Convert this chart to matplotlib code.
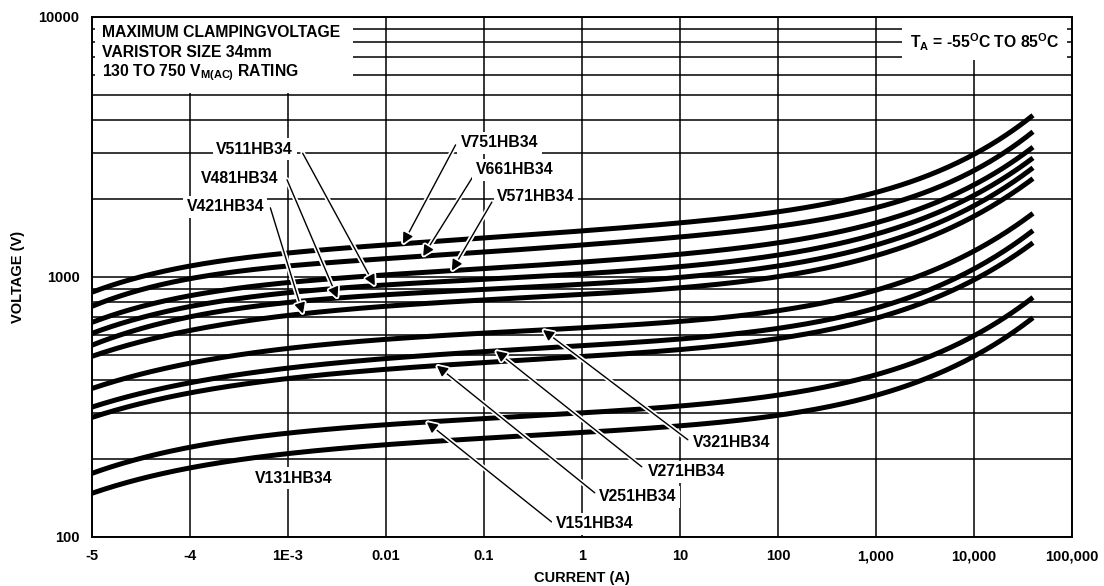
import matplotlib
matplotlib.use("Agg")
import matplotlib.pyplot as plt
import matplotlib.patches as patches
import matplotlib.patheffects as pe
import numpy as np

plt.rcParams['font.family'] = ['Liberation Sans', 'DejaVu Sans']
plt.rcParams['font.weight'] = 'bold'
plt.rcParams['mathtext.fontset'] = 'custom'
plt.rcParams['mathtext.rm'] = 'Liberation Sans:bold'
plt.rcParams['mathtext.bf'] = 'Liberation Sans:bold'
plt.rcParams['mathtext.it'] = 'Liberation Sans:bold'

currents = [1e-5, 1e-4, 1e-3, 1e-2, 1e-1, 1, 10, 100, 1e3, 1e4, 4e4]

# max clamping voltage (V) per varistor model
v751 = [876, 1093, 1248, 1328, 1413, 1490, 1628, 1778, 2123, 2946, 4199]
v661 = [774, 974, 1112, 1183, 1248, 1305, 1438, 1571, 1859, 2534, 3643]
v571 = [671, 838, 965, 1018, 1073, 1132, 1237, 1351, 1614, 2259, 3162]
v511 = [609, 760, 884, 932, 974, 1018, 1112, 1215, 1451, 2067, 2869]
v481 = [548, 696, 809, 853, 891, 932, 1009, 1102, 1316, 1892, 2626]
v421 = [497, 614, 727, 767, 809, 853, 924, 1000, 1194, 1732, 2382]
v321 = [374, 459, 543, 572, 604, 637, 683, 733, 899, 1248, 1763]
v271 = [316, 391, 451, 480, 515, 548, 583, 625, 760, 1083, 1503]
v251 = [289, 355, 413, 439, 467, 492, 533, 577, 690, 982, 1351]
v151 = [176, 220, 253, 270, 284, 300, 322, 346, 427, 588, 838]
v131 = [148, 181, 214, 226, 238, 251, 270, 292, 355, 488, 702]

models = ["V751HB34", "V661HB34", "V571HB34", "V511HB34", "V481HB34", "V421HB34",
          "V321HB34", "V271HB34", "V251HB34", "V151HB34", "V131HB34"]
series = [v751, v661, v571, v511, v481, v421, v321, v271, v251, v151, v131]

# current where each label's arrow touches its curve (None = no arrow)
arrow_at = [0.0149, 0.0239, 0.047, 0.0077, 0.0032, 0.00142,
            0.40, 0.132, 0.033, 0.026, None]

x_ticks = [1e-5, 1e-4, 1e-3, 1e-2, 1e-1, 1, 10, 100, 1e3, 1e4, 1e5]
x_tick_labels = ["-5", "-4", "1E-3", "0.01", "0.1", "1", "10", "100", "1,000", "10,000", "100,000"]
y_ticks = [100, 1000, 10000]
y_tick_labels = ["100", "1000", "10000"]


def smooth(xs, ys, xq, deg=5):
    # least squares polynomial in log-log space, keeps the curves free of kinks
    p = np.polyfit(np.log10(xs), np.log10(ys), deg)
    return 10 ** np.polyval(p, np.log10(np.atleast_1d(xq)))


# label text centre and arrow start, axes fraction
label_pos = [(0.416, 0.758), (0.431, 0.706), (0.453, 0.654), (0.166, 0.746), (0.151, 0.690),
             (0.136, 0.635), (0.653, 0.181), (0.607, 0.125), (0.557, 0.077), (0.513, 0.025),
             (0.206, 0.113)]
arrow_from = [(0.371, 0.754), (0.389, 0.694), (0.408, 0.644), (0.215, 0.738), (0.199, 0.687),
              (0.182, 0.633), (0.608, 0.187), (0.561, 0.135), (0.513, 0.085), (0.469, 0.029),
              None]

fig = plt.figure(figsize=(11.04, 5.86), dpi=100)
ax = fig.add_axes([92 / 1104, 49 / 586, 980 / 1104, 520 / 586])
ax.set_xscale('log')
ax.set_yscale('log')
ax.set_xlim(1e-5, 1e5)
ax.set_ylim(100, 10000)
ax.set_axisbelow(True)

ax.set_xticks(x_ticks)
ax.set_xticklabels(x_tick_labels)
ax.set_yticks(y_ticks)
ax.set_yticklabels(y_tick_labels)
ax.xaxis.set_minor_locator(matplotlib.ticker.NullLocator())
ax.yaxis.set_minor_locator(matplotlib.ticker.LogLocator(base=10, subs=np.arange(2, 10)))
ax.yaxis.set_minor_formatter(matplotlib.ticker.NullFormatter())
ax.tick_params(which='both', length=0, labelsize=10.5, pad=9)
ax.grid(which='major', color='black', lw=1.1)
ax.grid(which='minor', axis='y', color='black', lw=1.1)
for sp in ax.spines.values():
    sp.set_linewidth(1.4)

xs = np.logspace(-5, np.log10(4e4), 400)
for name, vals in zip(models, series):
    ax.plot(xs, smooth(currents, vals, xs), color='black', lw=3.6, solid_capstyle='butt', zorder=3)

for name, vals, at, lp, af in zip(models, series, arrow_at, label_pos, arrow_from):
    ax.text(lp[0], lp[1], name, transform=ax.transAxes, ha='center', va='center', fontsize=11.3,
            zorder=5, bbox=dict(facecolor='white', edgecolor='none', pad=2.5))
    if at is None:
        continue
    tip = (at, smooth(currents, vals, at)[0])
    ax.annotate('', xy=tip, xycoords='data', xytext=af, textcoords='axes fraction',
                arrowprops=dict(arrowstyle='-|>', color='black', lw=1.0, mutation_scale=16,
                                shrinkA=0, shrinkB=0,
                                path_effects=[pe.withStroke(linewidth=3.5, foreground='white')]),
                zorder=4)

# white boxes holding the chart notes
ax.add_patch(patches.Rectangle((0.003, 0.854), 0.263, 0.146, transform=ax.transAxes,
                               facecolor='white', edgecolor='none', zorder=1.5))
ax.add_patch(patches.Rectangle((0.827, 0.917), 0.168, 0.083, transform=ax.transAxes,
                               facecolor='white', edgecolor='none', zorder=1.5))
ax.text(0.0102, 0.971, "MAXIMUM CLAMPINGVOLTAGE", transform=ax.transAxes, va='center', fontsize=11.3, zorder=5)
ax.text(0.0102, 0.931, "VARISTOR SIZE 34mm", transform=ax.transAxes, va='center', fontsize=11.3, zorder=5)
ax.text(0.0102, 0.892, r"130 TO 750 V$_{\rm M(AC)}$ RATING", transform=ax.transAxes, va='center',
        fontsize=11.3, zorder=5)
ax.text(0.835, 0.952, r"T$_{\rm A}$ = -55$^{\rm O}$C TO 85$^{\rm O}$C", transform=ax.transAxes,
        va='center', fontsize=11.3, zorder=5)

fig.text(18 / 1104, 1 - 277 / 586, "VOLTAGE (V)", rotation=90, ha='center', va='center', fontsize=10.5)
fig.text(582 / 1104, 1 - 578 / 586, "CURRENT (A)", ha='center', va='center', fontsize=10.5)

plt.savefig("out.png", dpi=100)
